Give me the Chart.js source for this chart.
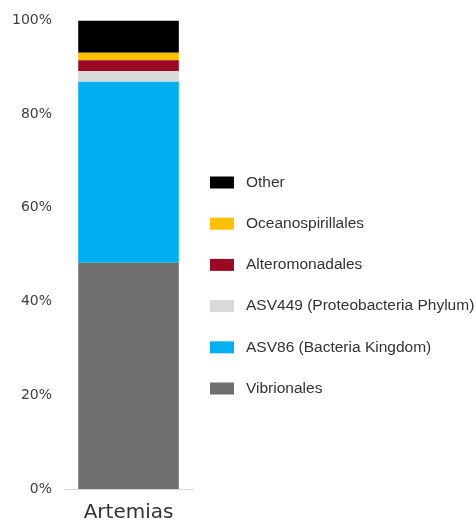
<!DOCTYPE html>
<html>
<head>
<meta charset="utf-8">
<script src="https://cdn.jsdelivr.net/npm/chart.js@4"></script>
<style>
  html, body { margin: 0; padding: 0; background: #fff; }
  #wrap { width: 476px; height: 525px; position: relative; }
</style>
</head>
<body>
<div id="wrap"><canvas id="chart"></canvas></div>
<script>
// Relative abundance per sample (%), stacked from bottom to top
const samples = ['Artemias'];
const taxa = ['Vibrionales', 'ASV86 (Bacteria Kingdom)', 'ASV449 (Proteobacteria Phylum)', 'Alteromonadales', 'Oceanospirillales', 'Other'];
const abundance = [
    [48.3],
    [38.6],
    [2.3],
    [2.3],
    [1.6],
    [6.9]
];
const taxaColors = ['#6f6f6f', '#00b0f0', '#d9d9d9', '#9b0a22', '#ffc000', '#000000'];
const yTicks = [0, 20, 40, 60, 80, 100];

const datasets = taxa.map((name, i) => ({
    label: name,
    data: abundance[i],
    backgroundColor: taxaColors[i],
    borderWidth: 0,
    barPercentage: 0.78,
    categoryPercentage: 1.0
}));

// the built-in legend gets squeezed to half the width, so draw it by hand
// to the right of the plot, top item = last dataset
const sideLegend = {
    id: 'sideLegend',
    afterDraw(chart) {
        const ctx = chart.ctx;
        const items = chart.data.datasets.slice().reverse();
        const x0 = 210, y0 = 182.5, step = 41.2;
        ctx.save();
        ctx.font = '15.5px "Liberation Sans", Arial, sans-serif';
        ctx.textBaseline = 'middle';
        items.forEach((ds, i) => {
            const y = y0 + i * step;
            ctx.fillStyle = ds.backgroundColor;
            ctx.fillRect(x0, y - 6, 24, 12);
            ctx.fillStyle = '#333';
            ctx.fillText(ds.label, x0 + 36, y);
        });
        ctx.restore();
    }
};

new Chart(document.getElementById('chart'), {
    type: 'bar',
    data: { labels: samples, datasets: datasets },
    plugins: [sideLegend],
    options: {
        responsive: true,
        maintainAspectRatio: false,
        animation: false,
        layout: { padding: { left: 0, right: 283, top: 19, bottom: 1 } },
        scales: {
            x: {
                stacked: true,
                grid: { display: false, drawTicks: false },
                border: { display: true, color: '#d9d9d9', width: 1 },
                afterFit: axis => { axis.height = 35; },
                ticks: {
                    padding: 12,
                    color: '#333',
                    font: { family: 'DejaVu Sans', size: 20 }
                }
            },
            y: {
                stacked: true,
                min: 0,
                max: 100,
                afterBuildTicks: axis => { axis.ticks = yTicks.map(v => ({ value: v })); },
                grid: { display: false, drawTicks: false },
                border: { display: false },
                ticks: {
                    padding: 12,
                    color: '#404040',
                    font: { family: 'DejaVu Sans', size: 14 },
                    callback: v => v + '%'
                }
            }
        },
        plugins: {
            tooltip: { enabled: false },
            legend: { display: false }
        }
    }
});
</script>
</body>
</html>
